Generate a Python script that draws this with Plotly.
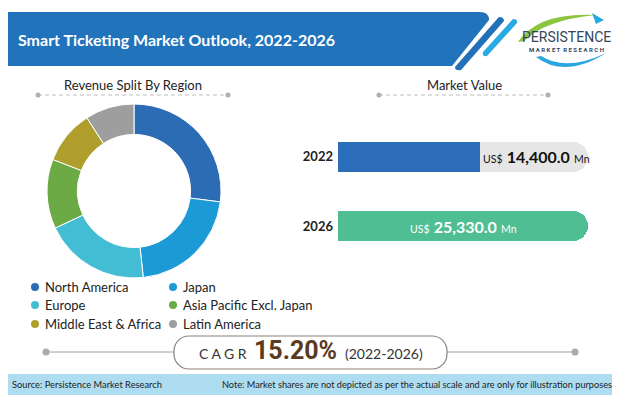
import plotly.graph_objects as go

W, H = 620, 395
OX, OY = 8, 8  # page offset of the plot inside the window

# ---------------- data ----------------
regions = ["North America", "Japan", "Europe", "Asia Pacific Excl. Japan",
           "Middle East & Africa", "Latin America"]
region_share = [27.0, 21.3, 19.7, 12.9, 10.0, 9.1]
region_colors = ["#2C6CB4", "#1C9AD6", "#43BDD4", "#6BAA45", "#B09E2C", "#9E9E9E"]

years = ["2022", "2026"]
market_values = [14400.0, 25330.0]
bar_colors = ["#2B6DB8", "#4FBE93"]

cagr_value = "15.20%"
cagr_period = "(2022-2026)"
title = "Smart Ticketing Market Outlook, 2022-2026"


def X(px):
    return (px - OX) / W


def Y(py):
    return 1 - (py - OY) / H


def path(points, close=True):
    s = ""
    for p in points:
        cmd = p[0]
        coords = p[1:]
        s += cmd + " ".join(
            f"{X(coords[j]):.5f},{Y(coords[j + 1]):.5f}" for j in range(0, len(coords), 2)
        ) + " "
    if close:
        s += "Z"
    return s


def pill(x0, y0, x1, y1, r):
    k = 0.5523 * r
    pts = [
        ("M", x0 + r, y0),
        ("L", x1 - r, y0),
        ("C", x1 - r + k, y0, x1, y0 + r - k, x1, y0 + r),
        ("L", x1, y1 - r),
        ("C", x1, y1 - r + k, x1 - r + k, y1, x1 - r, y1),
        ("L", x0 + r, y1),
        ("C", x0 + r - k, y1, x0, y1 - r + k, x0, y1 - r),
        ("L", x0, y0 + r),
        ("C", x0, y0 + r - k, x0 + r - k, y0, x0 + r, y0),
    ]
    return path(pts)


fig = go.Figure()

# ---------------- donut ----------------
fig.add_trace(go.Pie(
    labels=regions, values=region_share, hole=0.65, sort=False,
    direction="clockwise", rotation=0,
    marker=dict(colors=region_colors, line=dict(color="white", width=1)),
    textinfo="none", hoverinfo="label+percent", showlegend=False,
    domain=dict(x=[X(46), X(222)], y=[Y(278), Y(104)]),
))

# ---------------- bars ----------------
vmax = max(market_values)
ypos = list(range(len(years)))
fig.add_trace(go.Bar(
    y=ypos, x=[vmax] * len(years), orientation="h", width=0.43,
    marker=dict(color="#E6E6E6", cornerradius="50%", line=dict(width=0)),
    showlegend=False, hoverinfo="skip",
))
fig.add_trace(go.Bar(
    y=ypos, x=market_values, orientation="h", width=0.43,
    marker=dict(color=bar_colors, cornerradius="50%", line=dict(width=0)),
    showlegend=False,
))
fig.add_trace(go.Bar(
    y=ypos, x=[v / 2 for v in market_values], orientation="h", width=0.43,
    marker=dict(color=bar_colors, line=dict(width=0)),
    showlegend=False, hoverinfo="skip",
))

shapes = []
annotations = []

# header banner
shapes.append(dict(type="path", xref="paper", yref="paper", line=dict(width=0),
                   fillcolor="#2173BC",
                   path=path([("M", 0, 12), ("L", 480, 12),
                              ("Q", 489, 12, 489, 20), ("L", 452, 66), ("L", 0, 66)])))
# stripes
shapes.append(dict(type="path", xref="paper", yref="paper", line=dict(width=0),
                   fillcolor="#2170B8",
                   path=path([("M", 499, 17), ("Q", 504, 17, 504, 21), ("L", 461, 70),
                              ("Q", 455, 71, 455, 67), ("L", 498, 18)])))
shapes.append(dict(type="path", xref="paper", yref="paper", line=dict(width=0),
                   fillcolor="#2AAAE2",
                   path=path([("M", 513, 19), ("Q", 518, 19, 517, 23), ("L", 487, 56),
                              ("Q", 482, 57, 483, 52), ("L", 512, 20)])))
annotations.append(dict(xref="paper", yref="paper", x=X(16), y=Y(40), xanchor="left",
                        yanchor="middle", showarrow=False, text=f"<b>{title}</b>",
                        font=dict(family="Lato", size=16, color="white")))

# logo
shapes.append(dict(type="path", xref="paper", yref="paper", line=dict(width=0),
                   fillcolor="#8CC540",
                   path=path([("M", 518, 42), ("Q", 538, 12, 596, 15),
                              ("Q", 545, 20, 524, 41)])))
shapes.append(dict(type="path", xref="paper", yref="paper", line=dict(width=0),
                   fillcolor="#27A9E1",
                   path=path([("M", 592, 13), ("L", 604, 20), ("L", 596, 24)])))
shapes.append(dict(type="path", xref="paper", yref="paper", line=dict(width=0),
                   fillcolor="#2AA7DF",
                   path=path([("M", 536, 57), ("Q", 565, 79, 606, 53),
                              ("Q", 566, 72, 541, 56)])))
annotations.append(dict(xref="paper", yref="paper", x=X(566), y=Y(37.5), xanchor="center",
                        yanchor="middle", showarrow=False, text="PERSISTENCE",
                        font=dict(family="Roboto", size=14, color="#34475A")))
annotations.append(dict(xref="paper", yref="paper", x=X(566), y=Y(49.5), xanchor="center",
                        yanchor="middle", showarrow=False,
                        text="<b>M A R K E T  R E S E A R C H</b>",
                        font=dict(family="Roboto", size=6, color="#34475A")))

# section titles with dashed rules
for label, cx, x0, x1 in [("Revenue Split By Region", 133, 38, 228),
                          ("Market Value", 464, 379, 548)]:
    annotations.append(dict(xref="paper", yref="paper", x=X(cx), y=Y(85), xanchor="center",
                            yanchor="middle", showarrow=False, text=label,
                            font=dict(family="Lato", size=13, color="#222222")))
    shapes.append(dict(type="line", xref="paper", yref="paper", x0=X(x0), x1=X(x1),
                       y0=Y(95), y1=Y(95), line=dict(color="#BDBDBD", width=1, dash="4px,3px")))
    for xx in (x0, x1):
        shapes.append(dict(type="circle", xref="paper", yref="paper",
                           x0=X(xx - 2.5), x1=X(xx + 2.5), y0=Y(97.5), y1=Y(92.5),
                           fillcolor="#B0B0B0", line=dict(width=0)))

# legend (two columns)
col_x = [35, 173]
row_y = [287, 305, 324]
for i, (name, col) in enumerate(zip(regions, region_colors)):
    cx = col_x[i % 2]
    cy = row_y[i // 2]
    shapes.append(dict(type="circle", xref="paper", yref="paper",
                       x0=X(cx - 4), x1=X(cx + 4), y0=Y(cy + 4), y1=Y(cy - 4),
                       fillcolor=col, line=dict(width=0)))
    annotations.append(dict(xref="paper", yref="paper", x=X(cx + 8), y=Y(cy), xanchor="left",
                            yanchor="middle", showarrow=False, text=name,
                            font=dict(family="Lato", size=13, color="#222222")))

# bar value labels
for i, v in zip(ypos, market_values):
    txt = (f"<span style='font-size:10.5px'>US$</span> <b>{v:,.1f}</b> "
           f"<span style='font-size:10.5px'>Mn</span>")
    if v < vmax:
        annotations.append(dict(xref="x", yref="y", x=v, y=i, xanchor="left", xshift=1,
                                yanchor="middle", showarrow=False, text=txt,
                                font=dict(family="Lato", size=16, color="#111111")))
    else:
        annotations.append(dict(xref="x", yref="y", x=v / 2, y=i, xanchor="center",
                                yanchor="middle", showarrow=False, text=txt,
                                font=dict(family="Lato", size=16, color="white")))

# CAGR line and box
for xa, xb in [(46, 174), (447, 575)]:
    shapes.append(dict(type="line", xref="paper", yref="paper", x0=X(xa), x1=X(xb),
                       y0=Y(352), y1=Y(352), line=dict(color="#A0A0A0", width=1.2)))
for xx in (46, 575):
    shapes.append(dict(type="circle", xref="paper", yref="paper",
                       x0=X(xx - 3.5), x1=X(xx + 3.5), y0=Y(355.5), y1=Y(348.5),
                       fillcolor="#ABABAB", line=dict(width=0)))
shapes.append(dict(type="path", xref="paper", yref="paper", fillcolor="white",
                   line=dict(color="#8C8279", width=1.2),
                   path=pill(174, 336, 447, 369, 15)))
annotations.append(dict(xref="paper", yref="paper", x=X(249), y=Y(353), xanchor="right",
                        yanchor="middle", showarrow=False, text="C A G R",
                        font=dict(family="Lato", size=14, color="#333333")))
annotations.append(dict(xref="paper", yref="paper", x=X(295), y=Y(350.5), xanchor="center",
                        yanchor="middle", showarrow=False,
                        text=f"<b>{cagr_value}</b>",
                        font=dict(family="Roboto", size=25, color="#5B3A1E")))
annotations.append(dict(xref="paper", yref="paper", x=X(343), y=Y(353), xanchor="left",
                        yanchor="middle", showarrow=False, text=cagr_period,
                        font=dict(family="Lato", size=14, color="#333333")))

# footer
shapes.append(dict(type="rect", xref="paper", yref="paper", x0=X(0), x1=X(640), y0=Y(420),
                   y1=Y(374), fillcolor="#AEDDF1", line=dict(width=0), layer="below"))
annotations.append(dict(xref="paper", yref="paper", x=X(10), y=Y(384), xanchor="left",
                        yanchor="middle", showarrow=False,
                        text="Source: Persistence Market Research",
                        font=dict(family="Lato", size=9.3, color="#222222")))
annotations.append(dict(xref="paper", yref="paper", x=X(616), y=Y(384), xanchor="right",
                        yanchor="middle", showarrow=False,
                        text="Note: Market shares are not depicted as per the actual scale and are only for illustration purposes.",
                        font=dict(family="Lato", size=9.2, color="#222222")))

fig.update_layout(
    width=W, height=H, margin=dict(l=0, r=0, t=0, b=0, autoexpand=False),
    paper_bgcolor="white", plot_bgcolor="white",
    barmode="overlay", bargap=0,
    shapes=shapes, annotations=annotations,
    xaxis=dict(domain=[X(338), X(588)], range=[0, vmax], visible=False, fixedrange=True),
    yaxis=dict(domain=[Y(261), Y(122)], range=[1.5, -0.5], automargin=False,
               showgrid=False, zeroline=False, showline=False, ticks="",
               tickvals=ypos, ticktext=[f"<b>{y}</b>" for y in years],
               ticklabelstandoff=4, fixedrange=True,
               tickfont=dict(family="Lato", size=13, color="#222222")),
    showlegend=False,
)

fig.write_html("out.html")
